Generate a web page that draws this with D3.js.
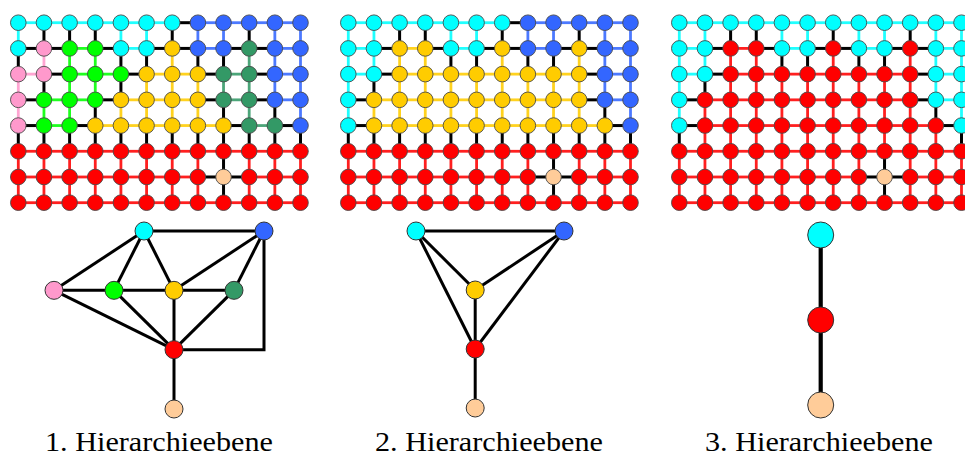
<!DOCTYPE html>
<html>
<head>
<meta charset="utf-8">
<script src="https://cdn.jsdelivr.net/npm/d3@7"></script>
<style>
  html, body { margin: 0; padding: 0; background: #fff; }
  svg { display: block; }
</style>
</head>
<body>
<svg id="chart" width="965" height="457"></svg>
<script>
// ---------------- DATA ----------------
const levelLabels = ["1. Hierarchieebene", "2. Hierarchieebene", "3. Hierarchieebene"];

// grid node classes per level (rows top -> bottom, 12 columns)
const gridLevel1 = [
  "CCCCCCCBBBBB",
  "CPGGCCYBBDBB",
  "PPGGGYYYDDBB",
  "PGGGYYYYDDBB",
  "PGGYYYYYYDDB",
  "RRRRRRRRRRRR",
  "RRRRRRRRORRR",
  "RRRRRRRRRRRR"
];
const gridLevel2 = [
  "CCCCCCCBBBBB",
  "CCYYCCYBBYBB",
  "CCYYYYYYYYBB",
  "CYYYYYYYYYBB",
  "CYYYYYYYYYYB",
  "RRRRRRRRRRRR",
  "RRRRRRRRORRR",
  "RRRRRRRRRRRR"
];
const gridLevel3 = [
  "CCCCCCCCCCCC",
  "CCRRCCRCCRCC",
  "CCRRRRRRRRCC",
  "CRRRRRRRRRCC",
  "CRRRRRRRRRRC",
  "RRRRRRRRRRRR",
  "RRRRRRRRORRR",
  "RRRRRRRRRRRR"
];

const classKeys   = ["C", "B", "P", "G", "Y", "D", "R", "O"];
const classColors = ["#00ffff", "#3366ff", "#ff99cc", "#00ff00", "#ffcc00", "#339966", "#ff0000", "#ffcc99"];

// quotient graphs: nodes in abstract layout units, edges by class
const graph1Nodes = [
  { id: "C", lx: 1.5, ly: 0 }, { id: "B", lx: 3.5, ly: 0 },
  { id: "P", lx: 0,   ly: 1 }, { id: "G", lx: 1,   ly: 1 },
  { id: "Y", lx: 2,   ly: 1 }, { id: "D", lx: 3,   ly: 1 },
  { id: "R", lx: 2,   ly: 2 }, { id: "O", lx: 2,   ly: 3 }
];
const graph1Edges = [
  ["C","B"], ["C","P"], ["C","G"], ["C","Y"], ["B","Y"], ["B","D"], ["B","R","elbow"],
  ["P","G"], ["G","Y"], ["Y","D"], ["P","R"], ["G","R"], ["Y","R"], ["D","R"], ["R","O"]
];
const graph2Nodes = [
  { id: "C", lx: 0,   ly: 0 }, { id: "B", lx: 2.5, ly: 0 },
  { id: "Y", lx: 1,   ly: 1 }, { id: "R", lx: 1,   ly: 2 }, { id: "O", lx: 1, ly: 3 }
];
const graph2Edges = [["C","B"], ["C","Y"], ["C","R"], ["B","Y"], ["B","R"], ["Y","R"], ["R","O"]];
const graph3Nodes = [
  { id: "C", lx: 0, ly: 0 }, { id: "R", lx: 0, ly: 1 }, { id: "O", lx: 0, ly: 2 }
];
const graph3Edges = [["C","R"], ["R","O"]];

// ---------------- DRAW ----------------
const svg = d3.select("#chart");
const color = d3.scaleOrdinal().domain(classKeys).range(classColors);

const panels = [
  { grid: gridLevel1, nodes: graph1Nodes, edges: graph1Edges, dx: 0,
    gx: [0, 3.5], gxr: [54, 264], gy: [0, 3], gyr: [231, 409], r: 9, w: 3 },
  { grid: gridLevel2, nodes: graph2Nodes, edges: graph2Edges, dx: 330,
    gx: [0, 2.5], gxr: [416, 564], gy: [0, 3], gyr: [231, 408], r: 9, w: 3 },
  { grid: gridLevel3, nodes: graph3Nodes, edges: graph3Edges, dx: 661,
    gx: [0, 1], gxr: [820.7, 820.7], gy: [0, 2], gyr: [235, 405], r: 13, w: 4.2 }
];
const labelX = [45, 375, 705];

panels.forEach((p, pi) => {
  const g = svg.append("g");
  const x = d3.scaleLinear().domain([0, 11]).range([18.3 + p.dx, 300.5 + p.dx]);
  const y = d3.scaleLinear().domain([0, 7]).range([22.7, 202.7]);

  const cells = [];
  p.grid.forEach((row, r) => row.split("").forEach((k, c) => cells.push({ r, c, k })));
  const at = (r, c) => p.grid[r][c];

  const links = [];
  cells.forEach(d => {
    if (d.c < 11) links.push({ r1: d.r, c1: d.c, r2: d.r, c2: d.c + 1 });
    if (d.r < 7)  links.push({ r1: d.r, c1: d.c, r2: d.r + 1, c2: d.c });
  });
  links.forEach(l => { l.same = at(l.r1, l.c1) === at(l.r2, l.c2); l.k = at(l.r1, l.c1); });

  g.selectAll("line.grid").data(links).join("line")
    .attr("x1", d => x(d.c1)).attr("y1", d => y(d.r1))
    .attr("x2", d => x(d.c2)).attr("y2", d => y(d.r2))
    .attr("stroke", d => d.same ? color(d.k) : "#000")
    .attr("stroke-opacity", d => d.same ? 0.88 : 1)
    .attr("stroke-width", d => d.same ? 2.8 : 3);

  g.selectAll("circle.grid").data(cells).join("circle")
    .attr("cx", d => x(d.c)).attr("cy", d => y(d.r)).attr("r", 7.8)
    .attr("fill", d => color(d.k))
    .attr("stroke", "#4a4a4a").attr("stroke-width", 0.9);

  // quotient graph
  const gxS = d3.scaleLinear().domain(p.gx).range(p.gxr);
  const gyS = d3.scaleLinear().domain(p.gy).range(p.gyr);
  const byId = new Map(p.nodes.map(n => [n.id, n]));
  const pathOf = e => {
    const a = byId.get(e[0]), b = byId.get(e[1]);
    if (e[2] === "elbow") {
      return `M${gxS(a.lx)},${gyS(a.ly)}L${gxS(a.lx)},${gyS(b.ly)}L${gxS(b.lx)},${gyS(b.ly)}`;
    }
    return `M${gxS(a.lx)},${gyS(a.ly)}L${gxS(b.lx)},${gyS(b.ly)}`;
  };
  g.selectAll("path.qe").data(p.edges).join("path")
    .attr("d", pathOf).attr("fill", "none")
    .attr("stroke", "#000").attr("stroke-width", p.w)
    .attr("stroke-linejoin", "miter");
  g.selectAll("circle.qn").data(p.nodes).join("circle")
    .attr("cx", d => gxS(d.lx)).attr("cy", d => gyS(d.ly)).attr("r", p.r)
    .attr("fill", d => color(d.id))
    .attr("stroke", "#333").attr("stroke-width", 1);

  svg.append("text")
    .attr("x", labelX[pi]).attr("y", 451)
    .attr("font-family", "'Liberation Serif', 'DejaVu Serif', serif")
    .attr("font-size", 28)
    .attr("textLength", 228).attr("lengthAdjust", "spacingAndGlyphs")
    .attr("fill", "#000")
    .text(levelLabels[pi]);
});
</script>
</body>
</html>
